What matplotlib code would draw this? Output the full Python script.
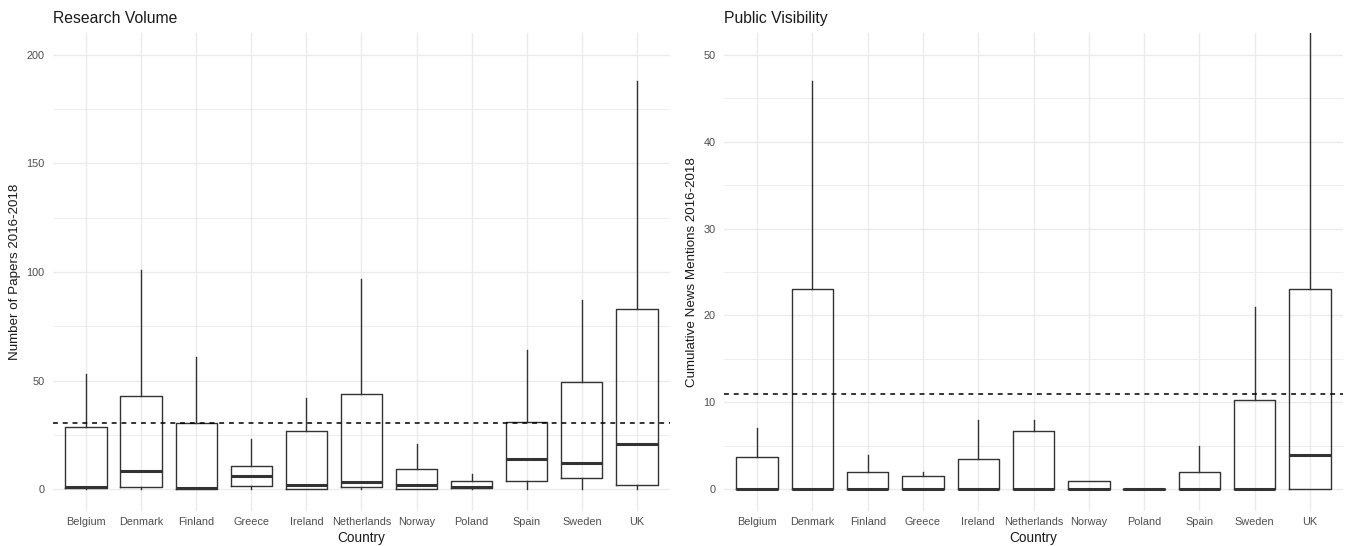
import matplotlib
matplotlib.use("Agg")
import matplotlib.pyplot as plt

plt.rcParams['font.family'] = ['Liberation Sans', 'DejaVu Sans']

countries = ['Belgium', 'Denmark', 'Finland', 'Greece', 'Ireland', 'Netherlands',
             'Norway', 'Poland', 'Spain', 'Sweden', 'UK']

# papers 2016-2018: whisker low, Q1, median, Q3, whisker high
papers_lo = [0, 0, 0, 0, 0, 0, 0, 0, 0, 0, 0]
papers_q1 = [0.5, 0.9, 0, 1.4, 0.3, 0.9, 0, 0.6, 4.0, 5.1, 2.0]
papers_med = [1.0, 8.6, 0.6, 6.0, 2.0, 3.5, 1.8, 1.1, 14.0, 12.0, 20.9]
papers_q3 = [28.7, 42.9, 30.6, 10.9, 26.6, 43.8, 9.4, 3.8, 30.9, 49.5, 83.0]
papers_hi = [53, 101, 61, 23, 42, 97, 21, 6.8, 64, 87, 188]
papers_mean = 30.7

# news mentions 2016-2018
news_lo = [0, 0, 0, 0, 0, 0, 0, 0, 0, 0, 0]
news_q1 = [0, 0, 0, 0, 0, 0, 0, 0, 0, 0, 0]
news_med = [0, 0, 0, 0, 0, 0, 0, 0, 0, 0, 4]
news_q3 = [3.75, 23, 2.0, 1.5, 3.5, 6.75, 1.0, 0, 2.0, 10.25, 23]
news_hi = [7, 47, 4, 2, 8, 8, 1, 0, 5, 21, 58]
news_mean = 11.0

LINE = '#333333'
GRID = '#EBEBEB'


def make_stats(lo, q1, med, q3, hi):
    return [dict(whislo=a, q1=b, med=c, q3=d, whishi=e, fliers=[])
            for a, b, c, d, e in zip(lo, q1, med, q3, hi)]


def draw_panel(ax, stats, mean, title, ylabel, ylim, major, minor):
    ax.set_axisbelow(True)
    ax.bxp(stats, positions=range(len(countries)), widths=0.75,
           showcaps=False, showfliers=False, patch_artist=False,
           boxprops=dict(color=LINE, lw=1.0),
           whiskerprops=dict(color=LINE, lw=1.0),
           medianprops=dict(color=LINE, lw=2.2, solid_capstyle='butt'))
    ax.axhline(mean, color='black', lw=1.1, ls=(0, (3.2, 3.2)))
    ax.set_xlim(-0.6, len(countries) - 0.4)
    ax.set_ylim(*ylim)
    ax.set_xticks(range(len(countries)))
    ax.set_xticklabels(countries)
    ax.set_yticks(major)
    ax.set_yticks(minor, minor=True)
    ax.grid(True, which='major', color=GRID, lw=1.0)
    ax.grid(True, which='minor', axis='y', color=GRID, lw=0.6)
    for s in ax.spines.values():
        s.set_visible(False)
    ax.tick_params(which='both', length=0, labelsize=7.8, labelcolor='#4D4D4D')
    ax.tick_params(axis='y', pad=6)
    ax.tick_params(axis='x', pad=4)
    ax.set_title(title, loc='left', fontsize=11.3, color='#1A1A1A', pad=7)
    ax.set_xlabel('Country', fontsize=9.8, color='#1A1A1A', labelpad=3)
    ax.set_ylabel(ylabel, fontsize=9.6, color='#1A1A1A', labelpad=4)


fig = plt.figure(figsize=(13.51, 5.46), dpi=100)
ax1 = fig.add_axes([0.0392, 0.0641, 0.4567, 0.8755])
ax2 = fig.add_axes([0.5359, 0.0641, 0.4582, 0.8755])

draw_panel(ax1, make_stats(papers_lo, papers_q1, papers_med, papers_q3, papers_hi),
           papers_mean, 'Research Volume', 'Number of Papers 2016-2018',
           (-10, 210), [0, 50, 100, 150, 200], [25, 75, 125, 175])
draw_panel(ax2, make_stats(news_lo, news_q1, news_med, news_q3, news_hi),
           news_mean, 'Public Visibility', 'Cumulative News Mentions 2016-2018',
           (-2.5, 52.5), [0, 10, 20, 30, 40, 50], [5, 15, 25, 35, 45])

fig.savefig('out.png', dpi=100, facecolor='white')
